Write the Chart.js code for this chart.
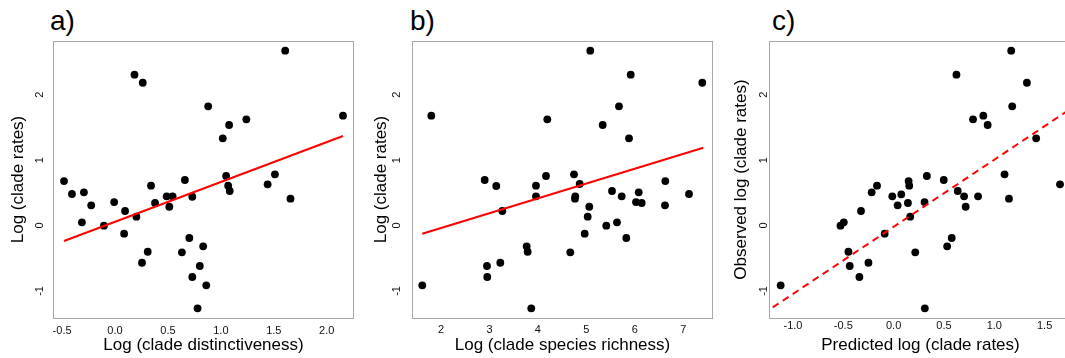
<!DOCTYPE html>
<html>
<head>
<meta charset="utf-8">
<script src="https://cdn.jsdelivr.net/npm/chart.js@4.4.1/dist/chart.umd.min.js"></script>
<style>
  body { margin: 0; width: 1065px; height: 358px; overflow: hidden; background: #fff; position: relative;
         font-family: "Liberation Sans", Arial, sans-serif; }
  canvas { position: absolute; top: 0; }
  .tag { position: absolute; top: 7px; font-size: 28px; line-height: 28px; color: #000; }
</style>
</head>
<body>
<div class="tag" style="left:50px">a)</div>
<div class="tag" style="left:410px">b)</div>
<div class="tag" style="left:772px">c)</div>
<canvas id="chartA" width="358" height="358" style="left:0"></canvas>
<canvas id="chartB" width="358" height="358" style="left:360px"></canvas>
<canvas id="chartC" width="358" height="358" style="left:718px"></canvas>
<script>
// a) rates vs distinctiveness
const distA = [0.184, 0.262, 1.608, 0.880, 1.241, 1.078, 1.018, 2.154, 1.511, 1.050, -0.482, -0.407, -0.294, -0.225, -0.313, -0.105, -0.008, 0.095, 0.086, 0.202, 0.340, 0.378, 0.488, 0.544, 0.513, 0.660, 0.730, 1.069, 1.084, 1.442, 1.658, 0.702, 0.833, 0.632, 0.309, 0.255, 0.801, 0.730, 0.862, 0.780];
const ratesA = [2.306, 2.183, 2.673, 1.823, 1.624, 1.537, 1.333, 1.679, 0.783, 0.757, 0.680, 0.482, 0.508, 0.309, 0.049, -0.003, 0.359, 0.222, -0.125, 0.135, 0.609, 0.344, 0.446, 0.446, 0.287, 0.696, 0.440, 0.609, 0.528, 0.630, 0.410, -0.191, -0.318, -0.410, -0.401, -0.569, -0.619, -0.787, -0.914, -1.266];
const fitAx = [-0.482, 2.154];
const fitAy = [-0.237, 1.368];
const xTicksA = [-0.5, 0.0, 0.5, 1.0, 1.5, 2.0];

// b) rates vs species richness
const richB = [1.80, 5.081, 5.915, 7.392, 5.673, 4.194, 5.337, 5.880, 2.902, 4.167, 4.745, 6.629, 3.141, 3.960, 4.862, 3.960, 4.771, 4.765, 5.529, 5.729, 6.080, 6.024, 6.142, 7.118, 6.622, 3.265, 5.060, 5.027, 5.411, 5.632, 4.965, 5.824, 3.768, 3.789, 4.668, 2.949, 3.224, 2.955, 1.614, 3.863];
const ratesB = [1.679, 2.673, 2.306, 2.183, 1.823, 1.624, 1.537, 1.333, 0.696, 0.757, 0.783, 0.680, 0.604, 0.609, 0.635, 0.446, 0.446, 0.410, 0.528, 0.446, 0.508, 0.359, 0.344, 0.482, 0.309, 0.222, 0.287, 0.135, -0.003, 0.049, -0.125, -0.191, -0.318, -0.401, -0.410, -0.619, -0.569, -0.787, -0.914, -1.266];
const fitBx = [1.614, 7.413];
const fitBy = [-0.125, 1.190];
const xTicksB = [2, 3, 4, 5, 6, 7];

// c) observed vs predicted
const predC = [1.168, 0.624, 1.324, 1.178, 0.789, 0.891, 0.934, 1.416, 1.102, 0.330, 0.149, 0.498, -0.165, -0.218, 0.155, -0.013, 0.076, 0.040, 0.142, 0.307, 0.637, 0.700, 0.839, 0.716, 1.146, 1.653, -0.324, -0.528, -0.495, 0.165, -0.089, 0.577, 0.532, -0.449, 0.215, -0.250, -0.436, -0.340, -1.122, 0.310];
const ratesC = [2.673, 2.306, 2.183, 1.823, 1.624, 1.679, 1.537, 1.333, 0.783, 0.757, 0.680, 0.696, 0.609, 0.508, 0.609, 0.446, 0.477, 0.309, 0.344, 0.359, 0.528, 0.446, 0.446, 0.287, 0.410, 0.630, 0.222, -0.003, 0.049, 0.135, -0.125, -0.191, -0.318, -0.401, -0.410, -0.569, -0.619, -0.787, -0.914, -1.266];
const fitCx = [-1.30, 1.80];
const fitCy = [-1.354, 1.827];
const xTicksC = [-1.0, -0.5, 0.0, 0.5, 1.0, 1.5];

const yTicks = [-1, 0, 1, 2];
const FONT = '"Liberation Sans", Arial, sans-serif';

// grey frame round the plot region
const framePlugin = {
  id: 'frame',
  beforeDatasetsDraw(chart) {
    const { ctx, chartArea: a } = chart;
    ctx.save();
    ctx.strokeStyle = '#a8a8a8';
    ctx.lineWidth = 1;
    ctx.strokeRect(a.left + 0.5, a.top + 0.5, a.right - a.left - 1, a.bottom - a.top);
    ctx.restore();
  }
};

function makePanel(id, p) {
  const pts = p.xs.map((x, i) => ({ x: x, y: p.ys[i] }));
  const fit = p.fitX.map((x, i) => ({ x: x, y: p.fitY[i] }));
  new Chart(document.getElementById(id), {
    type: 'scatter',
    data: {
      datasets: [
        {
          type: 'line',
          data: fit,
          borderColor: '#ff0000',
          borderWidth: 2,
          borderDash: p.dash,
          pointRadius: 0,
          fill: false
        },
        {
          data: pts,
          backgroundColor: '#000',
          borderColor: '#000',
          pointRadius: 3.9,
          borderWidth: 0
        }
      ]
    },
    options: {
      responsive: false,
      animation: false,
      layout: { padding: { top: 41, right: p.padRight, bottom: 0, left: 0 } },
      plugins: { legend: { display: false }, tooltip: { enabled: false } },
      scales: {
        x: {
          type: 'linear',
          min: p.xMin,
          max: p.xMax,
          grid: { display: false, drawTicks: false },
          border: { display: false },
          afterBuildTicks: s => { s.ticks = p.xTicks.map(v => ({ value: v })); },
          afterFit: s => { s.height = 40; },
          ticks: {
            padding: p.xTickPad,
            maxRotation: 0,
            font: { family: FONT, size: 11 },
            color: '#111',
            callback: p.fmt
          },
          title: {
            display: true,
            text: p.xTitle,
            font: { family: FONT, size: 17 },
            color: '#000',
            padding: { top: 0, bottom: 2.8 }
          }
        },
        y: {
          type: 'linear',
          min: -1.414,
          max: 2.821,
          grid: { display: false, drawTicks: false },
          border: { display: false },
          afterBuildTicks: s => { s.ticks = yTicks.map(v => ({ value: v })); },
          afterFit: s => { s.width = p.yWidth; },
          ticks: {
            padding: p.yTickPad,
            minRotation: 90,
            maxRotation: 90,
            crossAlign: 'center',
            font: { family: FONT, size: 11 },
            color: '#111',
            callback: v => String(v)
          },
          title: {
            display: true,
            text: p.yTitle,
            font: { family: FONT, size: 17 },
            color: '#000',
            padding: { top: p.yTitlePad, bottom: 0 }
          }
        }
      }
    },
    plugins: [framePlugin]
  });
}

makePanel('chartA', {
  xs: distA, ys: ratesA, fitX: fitAx, fitY: fitAy, dash: [],
  xMin: -0.586, xMax: 2.258, xTicks: xTicksA, fmt: v => v.toFixed(1),
  xTitle: 'Log (clade distinctiveness)', yTitle: 'Log (clade rates)',
  yWidth: 53, padRight: 3, xTickPad: 6, yTickPad: 8.6, yTitlePad: 8.3
});

makePanel('chartB', {
  xs: richB, ys: ratesB, fitX: fitBx, fitY: fitBy, dash: [],
  xMin: 1.402, xMax: 7.613, xTicks: xTicksB, fmt: v => String(v),
  xTitle: 'Log (clade species richness)', yTitle: 'Log (clade rates)',
  yWidth: 52, padRight: 5, xTickPad: 5.4, yTickPad: 9.9, yTitlePad: 11.5
});

makePanel('chartC', {
  xs: predC, ys: ratesC, fitX: fitCx, fitY: fitCy, dash: [7, 5],
  xMin: -1.238, xMax: 1.772, xTicks: xTicksC, fmt: v => v.toFixed(1),
  xTitle: 'Predicted log (clade rates)', yTitle: 'Observed log (clade rates)',
  yWidth: 51, padRight: 3, xTickPad: 1.1, yTickPad: 0.2, yTitlePad: 13.5
});
</script>
</body>
</html>
